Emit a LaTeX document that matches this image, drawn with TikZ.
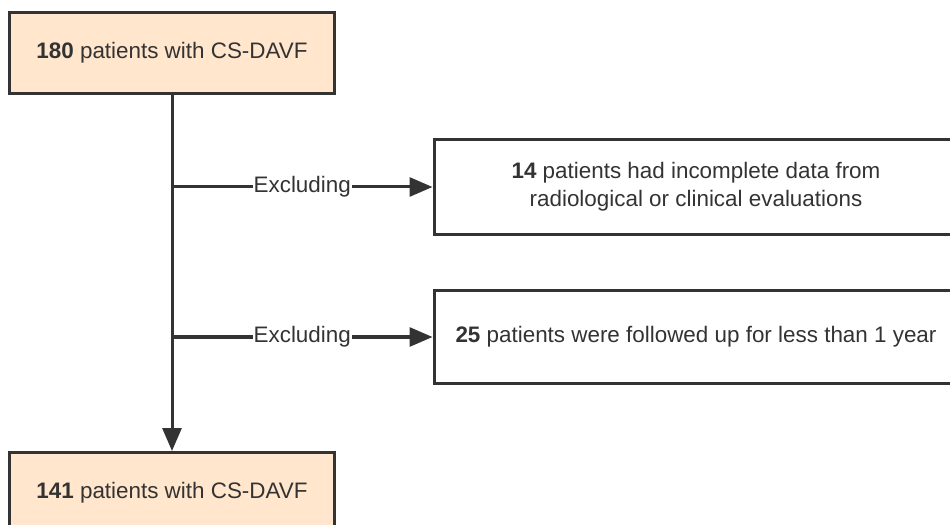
\documentclass[tikz,border=0pt]{standalone}
\usepackage{fontspec}
\setmainfont{Liberation Sans}
\usetikzlibrary{arrows.meta,positioning}
\definecolor{ink}{HTML}{333333}
\definecolor{peach}{HTML}{FFE6CC}
\tikzset{
	stage/.style={draw=ink, line width=3bp, fill=peach, align=center, minimum height=81bp, minimum width=324bp, text=ink, font=\fontsize{22.5}{27}\selectfont},
	excl/.style={draw=ink, line width=3bp, fill=white, align=center, minimum height=95bp, minimum width=524bp, text=ink, font=\fontsize{22.5}{28}\selectfont},
	flow/.style={-{Triangle[length=23bp, width=19bp]}, line width=3bp, draw=ink},
	tag/.style={fill=white, inner sep=1bp, text=ink, font=\fontsize{22.5}{27}\selectfont}
}
\begin{document}
\begin{tikzpicture}[x=1bp, y=-1bp]
	\useasboundingbox (0,0) rectangle (950,525);
	\clip (0,0) rectangle (950,525);
	\node[stage] (total) at (172,53) {\textbf{180} patients with CS-DAVF};
	\node[stage, below=356bp of total] (final) {\textbf{141} patients with CS-DAVF};
	\node[excl] (incomplete) at (696,187) {\textbf{14} patients had incomplete data from\\radiological or clinical evaluations};
	\node[excl, minimum height=93bp] (shortfu) at (696,337) {\textbf{25} patients were followed up for less than 1 year};
	\coordinate (j1) at (total.south |- incomplete.west);
	\coordinate (j2) at (total.south |- shortfu.west);
	\draw[flow] (total.south) -- (final.north);
	\draw[flow] (j1) -- node[tag] {Excluding} (incomplete.west);
	\draw[flow] (j2) -- node[tag] {Excluding} (shortfu.west);
\end{tikzpicture}
\end{document}
